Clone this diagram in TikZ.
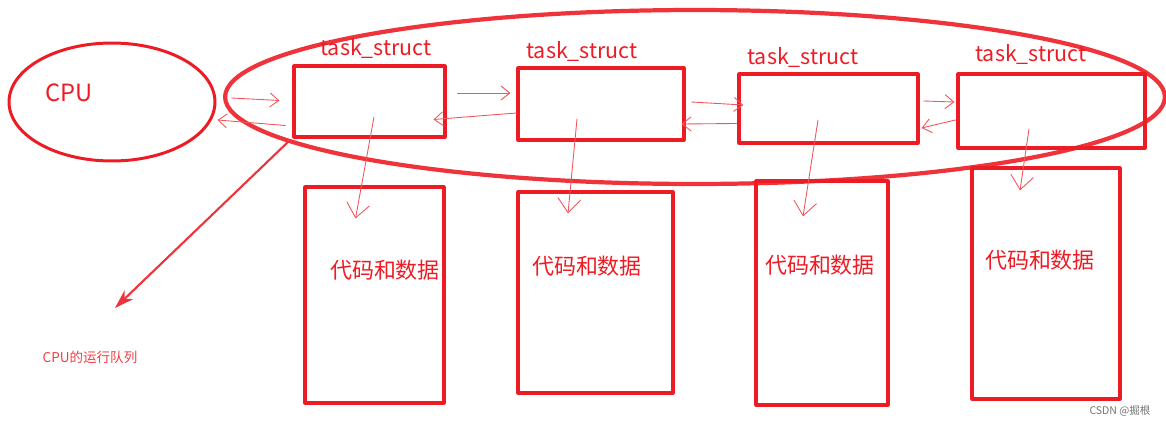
\documentclass[tikz,border=0pt]{standalone}
\usepackage{fontspec}
\setmainfont{Noto Sans CJK SC}
\usetikzlibrary{shapes.geometric,arrows.meta,calc}
\definecolor{penred}{RGB}{237,28,36}
\tikzset{
  taskbox/.style={draw=penred, line width=1.8pt, minimum width=#1, inner sep=0pt},
  tasklabel/.style={text=penred, font=\fontsize{12.2}{14}\selectfont, inner sep=0pt},
  datalabel/.style={text=penred, font=\fontsize{12.5}{14}\selectfont, inner sep=0pt},
  link/.style={draw=penred!75, line width=0.5pt, -{Straight Barb[length=5pt,width=8pt]}},
  downlink/.style={link, -{Straight Barb[length=8pt,width=13pt]}}
}
\begin{document}
\begin{tikzpicture}[x=0.02cm, y=-0.02cm, line join=round, line cap=round]
  \useasboundingbox (0,0) rectangle (1166,426);
  % cpu and run queue
  \node[ellipse, draw=penred, line width=1.7pt, minimum width=4.12cm, minimum height=2.36cm, inner sep=0pt] (cpu) at (112,102) {};
  \node[text=penred, font=\fontsize{13.5}{15}\selectfont, inner sep=0pt] (cpulabel) at (69,93) {CPU};
  \node[ellipse, draw=penred!90, line width=2.4pt, minimum width=18.8cm, minimum height=3.48cm, inner sep=0pt] (queue) at (695,97) {};
  % task_struct boxes
  \node[taskbox=3.02cm, minimum height=1.42cm] (t1) at (369.5,101.5) {};
  \node[taskbox=3.32cm, minimum height=1.44cm] (t2) at (601,104) {};
  \node[taskbox=3.58cm, minimum height=1.38cm] (t3) at (828.5,108.5) {};
  \node[taskbox=3.74cm, minimum height=1.48cm] (t4) at (1051.5,111) {};
  \node[tasklabel] (l1) at (376,48) {task\_struct};
  \node[tasklabel] (l2) at (582,51) {task\_struct};
  \node[tasklabel] (l3) at (803,57) {task\_struct};
  \node[tasklabel] (l4) at (1031,54) {task\_struct};
  % code and data boxes
  \node[taskbox=2.78cm, minimum height=4.32cm] (d1) at (374.5,295) {};
  \node[taskbox=3.10cm, minimum height=4.02cm] (d2) at (595.5,292.5) {};
  \node[taskbox=2.64cm, minimum height=4.48cm] (d3) at (822,293) {};
  \node[taskbox=2.96cm, minimum height=4.62cm] (d4) at (1046,283.5) {};
  \node[datalabel] (c1) at (385,270) {代码和数据};
  \node[datalabel] (c2) at (587,266) {代码和数据};
  \node[datalabel] (c3) at (820,265) {代码和数据};
  \node[datalabel] (c4) at (1040,260) {代码和数据};
  % links
  \draw[link] ($(cpu.east)+(15,-4)$) -- ($(t1.west)+(-13,-1)$);
  \draw[link] ($(t1.west)+(-7,24)$) -- ($(cpu.east)+(1,18)$);
  \draw[link] ($(t1.east)+(11,-8.5)$) -- ($(t2.west)+(-6,-11)$);
  \draw[link] ($(t2.west)+(0,9)$) -- ($(t1.east)+(-13,18)$);
  \draw[link] ($(t2.east)+(6,-2)$) -- ($(t3.west)+(6,-3.5)$);
  \draw[link] ($(t3.west)+(-1,15)$) -- ($(t2.east)+(-4,20)$);
  \draw[link] ($(t3.east)+(4,-7.5)$) -- ($(t4.west)+(-2,-9)$);
  \draw[link] ($(t4.west)+(-1,9)$) -- ($(t3.east)+(2,19.5)$);
  \draw[downlink] ($(t1.center)+(4.5,15.5)$) -- ($(d1.north)+(-19,33)$);
  \draw[downlink] ($(t2.center)+(-24,15)$) -- ($(d2.north)+(-27.5,23)$);
  \draw[downlink] ($(t3.center)+(-10.5,11.5)$) -- ($(d3.north)+(-19,37)$);
  \draw[downlink] ($(t4.center)+(-22.5,18)$) -- ($(d4.north)+(-26,24)$);
  % run queue pointer
  \coordinate (qend) at (115,308);
  \draw[draw=penred!90, line width=1.2pt, -{Stealth[length=11pt,width=7pt]}] ($(t1.south west)+(-4,3)$) -- (qend);
  \node[text=penred!85, font=\fontsize{7.7}{9}\selectfont, inner sep=0pt] (qlabel) at (90,357) {CPU的运行队列};
  \node[text=black!55, font=\fontsize{6}{7}\selectfont, inner sep=0pt] (mark) at (1120,411) {CSDN @掘根};
\end{tikzpicture}
\end{document}
